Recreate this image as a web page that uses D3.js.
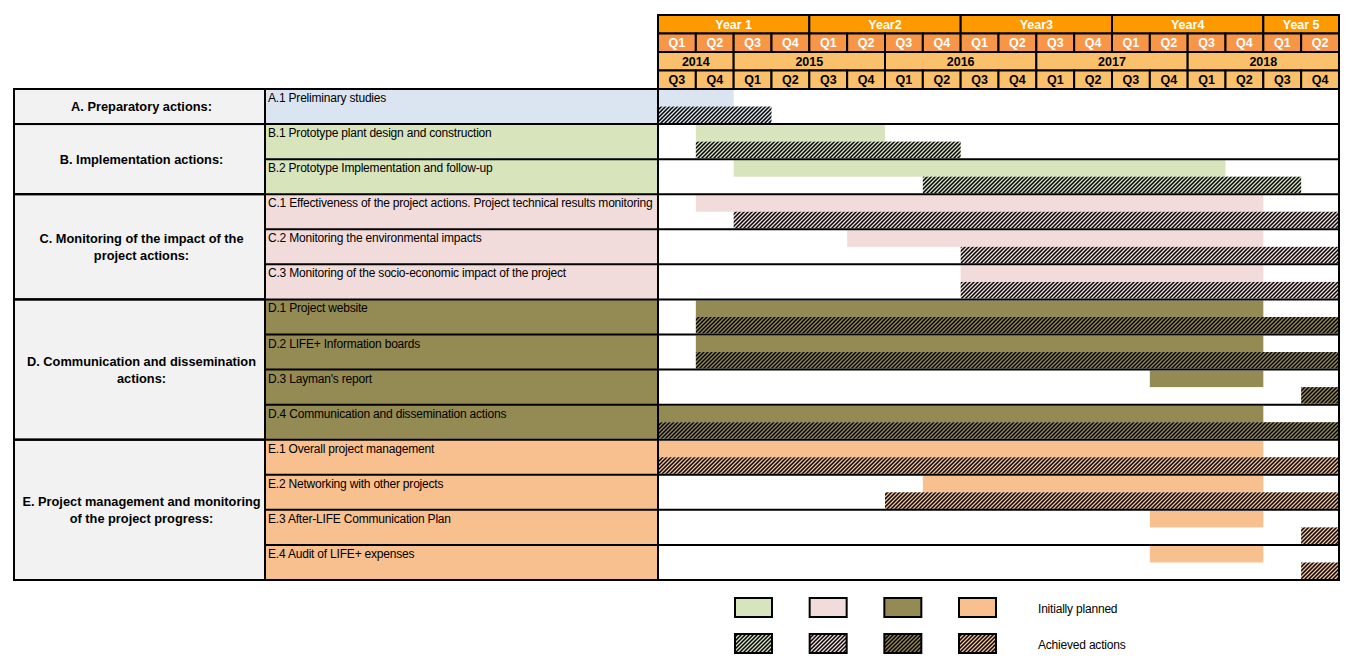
<!DOCTYPE html>
<html><head><meta charset="utf-8">
<script src="https://cdn.jsdelivr.net/npm/d3@7"></script>
<style>
html,body{margin:0;padding:0;background:#fff;}
svg{display:block;}
</style></head>
<body>
<svg id="chart" width="1348" height="667"></svg>
<script>
// ---------------- DATA ----------------
const projectYears = ["Year 1", "Year2", "Year3", "Year4", "Year 5"];
const projectYearSpans = [4, 4, 4, 4, 2];
const projectQuarters = ["Q1","Q2","Q3","Q4","Q1","Q2","Q3","Q4","Q1","Q2","Q3","Q4","Q1","Q2","Q3","Q4","Q1","Q2"];
const calendarYears = ["2014", "2015", "2016", "2017", "2018"];
const calendarYearSpans = [2, 4, 4, 4, 4];
const calendarQuarters = ["Q3","Q4","Q1","Q2","Q3","Q4","Q1","Q2","Q3","Q4","Q1","Q2","Q3","Q4","Q1","Q2","Q3","Q4"];

const groupKeys = ["A", "B", "C", "D", "E"];
const groupLabels = [
  ["A. Preparatory actions:"],
  ["B. Implementation actions:"],
  ["C. Monitoring of the impact of the", "project actions:"],
  ["D. Communication and dissemination", "actions:"],
  ["E. Project management and monitoring", "of the project progress:"]
];

const activityGroups = ["A","B","B","C","C","C","D","D","D","D","E","E","E","E"];
const activityNames = [
  "A.1 Preliminary studies",
  "B.1 Prototype plant design and construction",
  "B.2 Prototype Implementation and follow-up",
  "C.1 Effectiveness of the project actions. Project technical results monitoring",
  "C.2 Monitoring the environmental impacts",
  "C.3 Monitoring of the socio-economic impact of the project",
  "D.1 Project website",
  "D.2 LIFE+ Information boards",
  "D.3 Layman's report",
  "D.4 Communication and dissemination actions",
  "E.1 Overall project management",
  "E.2 Networking with other projects",
  "E.3 After-LIFE Communication Plan",
  "E.4 Audit of LIFE+ expenses"
];
// quarter indices (0 = Year 1 Q1 = 2014 Q3), [start, end)
const plannedStart  = [0, 1, 2, 1, 5, 8, 1, 1, 13, 0, 0, 7, 13, 13];
const plannedEnd    = [2, 6, 15, 16, 16, 16, 16, 16, 16, 16, 16, 16, 16, 16];
const achievedStart = [0, 1, 7, 2, 8, 8, 1, 1, 17, 0, 0, 6, 17, 17];
const achievedEnd   = [3, 8, 17, 18, 18, 18, 18, 18, 18, 18, 18, 18, 18, 18];

const legendGroups = ["B", "C", "D", "E"];
const legendLabels = ["Initially planned", "Achieved actions"];

// ---------------- STYLE ----------------
const groupColor = {A: "#dbe5f1", B: "#d7e4bc", C: "#f2dcdb", D: "#948a54", E: "#f8bf8f"};
const headerColors = ["#ff9900", "#f79646", "#fbc06b", "#fbc06b"];
const headerText = ["#ffffff", "#ffffff", "#000000", "#000000"];
const sansFont = "'Liberation Sans', Arial, sans-serif";

const svg = d3.select("#chart");
const defs = svg.append("defs");

Object.keys(groupColor).forEach(k => {
  const p = defs.append("pattern").attr("id", "hatch" + k)
    .attr("patternUnits", "userSpaceOnUse").attr("width", 4).attr("height", 4);
  p.append("rect").attr("width", 4).attr("height", 4).attr("fill", groupColor[k]);
  p.append("path").attr("d", "M-1,1 l2,-2 M0,4 l4,-4 M3,5 l2,-2")
    .attr("stroke", "#000").attr("stroke-width", 1.5);
});

// ---------------- LAYOUT ----------------
const xLeft = 14, xCol1 = 265, xCol2 = 658, xRight = 1339;
const yTop = 89, yBottom = 580;
const x = d3.scaleLinear().domain([0, 18]).range([xCol2, xRight]);
const y = d3.scaleLinear().domain([0, activityNames.length]).range([yTop, yBottom]);
const rowH = y(1) - y(0);
const hdrTop = 15, hdrH = (yTop - hdrTop) / 4;

// ---------------- HEADER ----------------
function spansToCells(labels, spans) {
  let s = 0;
  return labels.map((l, i) => { const c = {label: l, start: s, end: s + spans[i]}; s += spans[i]; return c; });
}
const headerRows = [
  spansToCells(projectYears, projectYearSpans),
  projectQuarters.map((q, i) => ({label: q, start: i, end: i + 1})),
  spansToCells(calendarYears, calendarYearSpans),
  calendarQuarters.map((q, i) => ({label: q, start: i, end: i + 1}))
];
headerRows.forEach((cells, r) => {
  const g = svg.append("g");
  const yy = hdrTop + r * hdrH;
  g.selectAll("rect").data(cells).join("rect")
    .attr("x", d => x(d.start)).attr("y", yy)
    .attr("width", d => x(d.end) - x(d.start)).attr("height", hdrH)
    .attr("fill", headerColors[r]).attr("stroke", "#000").attr("stroke-width", 2);
  g.selectAll("text").data(cells).join("text")
    .attr("x", d => (x(d.start) + x(d.end)) / 2).attr("y", yy + hdrH / 2 + 4.5)
    .attr("text-anchor", "middle").attr("font-family", sansFont).attr("font-weight", "bold")
    .attr("font-size", 12.5).attr("fill", headerText[r]).text(d => d.label);
});

// ---------------- LEFT LABELS ----------------
const groupRanges = groupKeys.map((k, gi) => {
  const idx = activityGroups.map((g, i) => g === k ? i : -1).filter(i => i >= 0);
  return {key: k, lines: groupLabels[gi], start: d3.min(idx), end: d3.max(idx) + 1};
});
svg.append("g").selectAll("rect").data(groupRanges).join("rect")
  .attr("x", xLeft).attr("y", d => y(d.start))
  .attr("width", xCol1 - xLeft).attr("height", d => y(d.end) - y(d.start))
  .attr("fill", "#f2f2f2").attr("stroke", "#000").attr("stroke-width", 2);
const gl = svg.append("g").selectAll("text").data(groupRanges).join("text")
  .attr("text-anchor", "middle").attr("font-family", sansFont).attr("font-weight", "bold")
  .attr("font-size", 12.8).attr("fill", "#000");
gl.each(function(d) {
  const mid = (y(d.start) + y(d.end)) / 2;
  const n = d.lines.length, lh = 17;
  d3.select(this).selectAll("tspan").data(d.lines).join("tspan")
    .attr("x", (xLeft + xCol1) / 2 + 2)
    .attr("y", (t, i) => mid + 4.5 + (i - (n - 1) / 2) * lh)
    .text(t => t);
});

// activity label cells
svg.append("g").selectAll("rect").data(activityNames).join("rect")
  .attr("x", xCol1).attr("y", (d, i) => y(i))
  .attr("width", xCol2 - xCol1).attr("height", rowH)
  .attr("fill", (d, i) => groupColor[activityGroups[i]]);
svg.append("g").selectAll("text").data(activityNames).join("text")
  .attr("x", xCol1 + 3).attr("y", (d, i) => y(i) + 13)
  .attr("font-family", sansFont).attr("font-size", 12).attr("letter-spacing", -0.2)
  .attr("fill", "#000")
  .text(d => d);

// ---------------- BARS ----------------
const acts = activityNames.map((n, i) => ({i, g: activityGroups[i],
  ps: plannedStart[i], pe: plannedEnd[i], as: achievedStart[i], ae: achievedEnd[i]}));
const half = rowH / 2;
svg.append("g").selectAll("rect").data(acts).join("rect")
  .attr("x", d => x(d.ps)).attr("y", d => y(d.i) + 1)
  .attr("width", d => x(d.pe) - x(d.ps)).attr("height", half - 1)
  .attr("fill", d => groupColor[d.g]);
svg.append("g").selectAll("rect").data(acts).join("rect")
  .attr("x", d => x(d.as)).attr("y", d => y(d.i) + half)
  .attr("width", d => x(d.ae) - x(d.as)).attr("height", half - 1)
  .attr("fill", d => "url(#hatch" + d.g + ")");

// ---------------- GRID LINES ----------------
const lines = svg.append("g").attr("stroke", "#000").attr("stroke-width", 2);
d3.range(activityNames.length + 1).forEach(i => {
  lines.append("line").attr("x1", xCol1).attr("x2", xRight).attr("y1", y(i)).attr("y2", y(i));
});
[xCol1, xCol2, xRight].forEach(xx => {
  lines.append("line").attr("x1", xx).attr("x2", xx).attr("y1", yTop).attr("y2", yBottom);
});
groupRanges.forEach(d => {
  lines.append("line").attr("x1", xLeft).attr("x2", xCol1).attr("y1", y(d.start)).attr("y2", y(d.start));
});
lines.append("rect").attr("x", xLeft).attr("y", yTop).attr("width", xRight - xLeft)
  .attr("height", yBottom - yTop).attr("fill", "none");

// ---------------- LEGEND ----------------
const lg = svg.append("g");
const legX = d3.scalePoint().domain(legendGroups).range([735, 959]);
const legRowY = [598, 634];
legendGroups.forEach(k => {
  lg.append("rect").attr("x", legX(k)).attr("y", legRowY[0]).attr("width", 37).attr("height", 19)
    .attr("fill", groupColor[k]).attr("stroke", "#000").attr("stroke-width", 2);
  lg.append("rect").attr("x", legX(k)).attr("y", legRowY[1]).attr("width", 37).attr("height", 19)
    .attr("fill", "url(#hatch" + k + ")").attr("stroke", "#000").attr("stroke-width", 2);
});
legendLabels.forEach((t, i) => {
  lg.append("text").attr("x", 1038).attr("y", legRowY[i] + 15)
    .attr("font-family", sansFont).attr("font-size", 12).attr("letter-spacing", -0.2)
    .attr("fill", "#000").text(t);
});
</script>
</body></html>
